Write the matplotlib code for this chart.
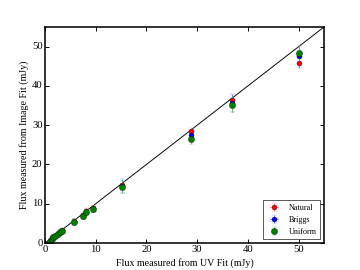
import matplotlib
matplotlib.use("Agg")
import matplotlib.pyplot as plt
import numpy as np

plt.style.use("classic")
plt.rcParams["font.family"] = ["Liberation Serif", "DejaVu Serif"]

uv_flux = [1.0, 1.3, 1.6, 2.0, 2.5, 3.0, 3.3, 5.7, 7.4, 8.1, 9.5, 15.2, 28.8, 36.9, 50.0]
natural = [0.5, 1.2, 1.6, 1.8, 2.4, 2.9, 3.2, 5.6, 7.1, 8.2, 8.8, 14.7, 28.4, 36.4, 45.9]
briggs = [0.4, 1.1, 1.5, 1.9, 2.3, 2.8, 3.1, 5.4, 6.9, 8.0, 8.7, 14.6, 27.5, 35.6, 47.6]
uniform = [0.3, 1.0, 1.5, 1.8, 2.3, 2.8, 3.1, 5.3, 6.9, 7.8, 8.6, 14.3, 26.5, 35.1, 48.3]
natural_err = [0.4, 0.4, 0.4, 0.4, 0.4, 0.4, 0.4, 0.5, 0.6, 0.6, 0.6, 1.2, 1.0, 1.4, 1.4]
briggs_err = [0.5, 0.5, 0.5, 0.5, 0.5, 0.5, 0.5, 0.7, 0.7, 0.7, 0.7, 1.8, 1.4, 2.3, 2.9]
uniform_err = [0.6, 0.6, 0.6, 0.6, 0.6, 0.6, 0.6, 0.8, 0.8, 0.8, 0.8, 1.6, 1.2, 1.8, 1.6]

fig = plt.figure(figsize=(8, 6), dpi=45)
ax = fig.add_subplot(111)

ax.plot([0, 55], [0, 55], color="black", linewidth=1.5)
ax.errorbar(uv_flux, natural, yerr=natural_err, xerr=0.3, fmt="o", color="red",
            ecolor="#ff8888", markersize=8, capsize=4, elinewidth=1.5, label="Natural")
ax.errorbar(uv_flux, briggs, yerr=briggs_err, xerr=0.3, fmt="o", color="blue",
            ecolor="#6688ee", markersize=8, capsize=4, elinewidth=1.5, label="Briggs")
ax.errorbar(uv_flux, uniform, yerr=uniform_err, fmt="o", color="green",
            ecolor="#77bb77", markersize=10, capsize=4, elinewidth=1.5, label="Uniform")

ax.set_xlim(0, 55)
ax.set_ylim(0, 55)
ax.set_xlabel("Flux measured from UV Fit (mJy)", fontsize=16)
ax.set_ylabel("Flux measured from Image Fit (mJy)", fontsize=16)
ax.tick_params(labelsize=17, width=1.5, length=6)
for s in ax.spines.values():
    s.set_linewidth(2.5)
ax.legend(loc="lower right", numpoints=1, fontsize=13)

fig.savefig("out.png", dpi=45)
